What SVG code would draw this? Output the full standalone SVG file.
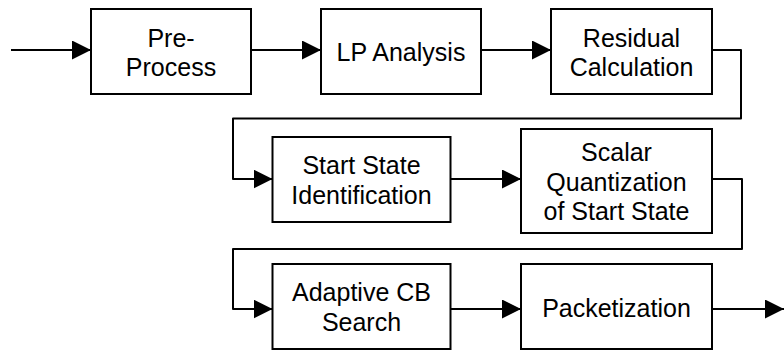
<svg xmlns="http://www.w3.org/2000/svg" width="784" height="351" viewBox="0 0 784 351">
  <defs>
    <marker id="arrow" markerUnits="userSpaceOnUse" markerWidth="19" markerHeight="19" refX="19" refY="9.5" orient="auto">
      <path d="M0,0 L19,9.5 L0,19 Z" fill="#000"/>
    </marker>
    <style>
      .box { fill: #fff; stroke: #000; stroke-width: 2; }
      .lbl { font-family: "Liberation Sans", Arial, sans-serif; font-size: 25px; fill: #000; text-anchor: middle; }
      .wire { fill: none; stroke: #000; stroke-width: 2; stroke-linejoin: round; marker-end: url(#arrow); }
    </style>
  </defs>
  <rect width="784" height="351" fill="#fff"/>

  <!-- connectors -->
  <g id="connectors">
    <path class="wire" d="M11,50 H91"/>
    <path class="wire" d="M251,50 H321"/>
    <path class="wire" d="M481,50 H551"/>
    <path class="wire" d="M712,50 H741 V118.5 H233 V179 H272.5"/>
    <path class="wire" d="M450.5,179 H521"/>
    <path class="wire" d="M712,179 H742 V249 H233 V309 H272.5"/>
    <path class="wire" d="M450.5,309 H521"/>
    <path class="wire" d="M712,309 H784"/>
  </g>

  <!-- processing stages -->
  <g id="preprocess">
    <rect class="box" x="91" y="9" width="160" height="85"/>
    <text class="lbl" x="171" y="47">Pre-</text>
    <text class="lbl" x="171" y="76">Process</text>
  </g>
  <g id="lp-analysis">
    <rect class="box" x="321" y="9" width="160" height="85"/>
    <text class="lbl" x="401" y="61">LP Analysis</text>
  </g>
  <g id="residual">
    <rect class="box" x="551" y="9" width="161" height="85"/>
    <text class="lbl" x="631.5" y="47">Residual</text>
    <text class="lbl" x="631.5" y="76">Calculation</text>
  </g>
  <g id="start-state">
    <rect class="box" x="272.5" y="137" width="178" height="85"/>
    <text class="lbl" x="361.5" y="174">Start State</text>
    <text class="lbl" x="361.5" y="204">Identification</text>
  </g>
  <g id="scalar-quant">
    <rect class="box" x="521" y="129" width="191" height="104"/>
    <text class="lbl" x="616.5" y="161">Scalar</text>
    <text class="lbl" x="616.5" y="190.5">Quantization</text>
    <text class="lbl" x="616.5" y="220">of Start State</text>
  </g>
  <g id="adaptive-cb">
    <rect class="box" x="272.5" y="264" width="178" height="85"/>
    <text class="lbl" x="361.5" y="301">Adaptive CB</text>
    <text class="lbl" x="361.5" y="331">Search</text>
  </g>
  <g id="packetization">
    <rect class="box" x="521" y="264" width="191" height="85"/>
    <text class="lbl" x="616.5" y="317">Packetization</text>
  </g>
</svg>
